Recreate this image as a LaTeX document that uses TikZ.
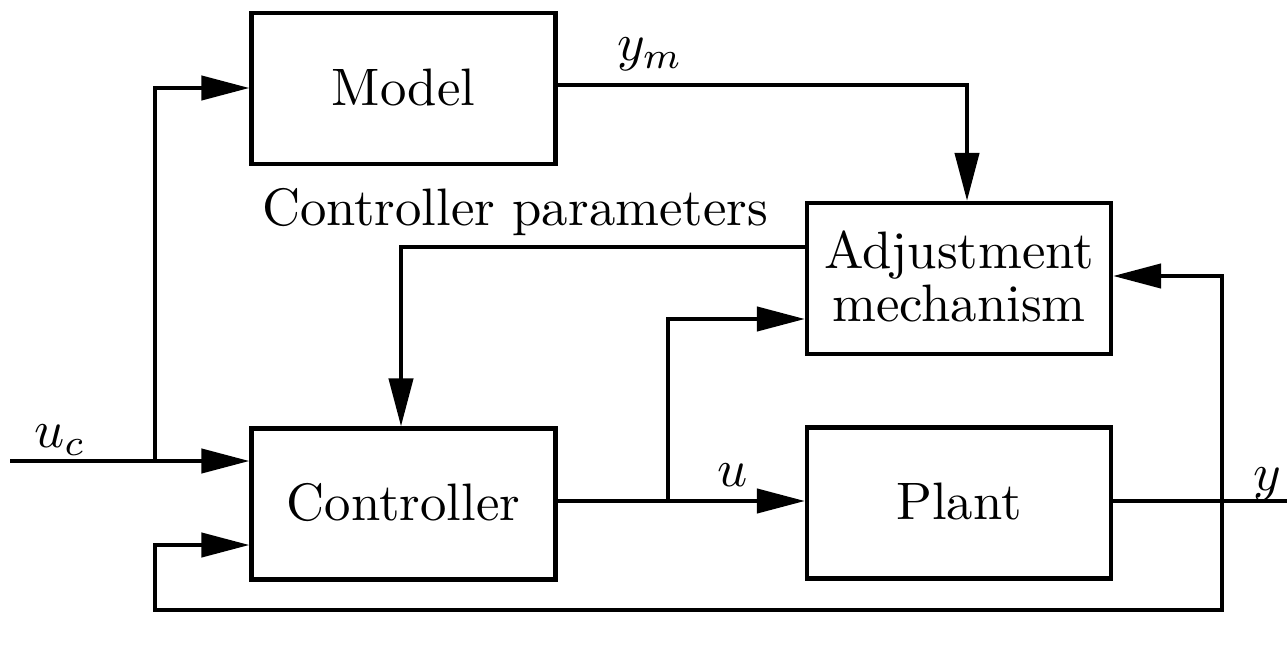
\documentclass[tikz,border=0pt]{standalone}
\usepackage{graphicx}
\usetikzlibrary{arrows.meta}
% text is set at 10pt and enlarged threefold
\newcommand{\lbl}[1]{\scalebox{3}{\fontsize{10}{12}\selectfont\def\arraystretch{0.85}\begin{tabular}{@{}c@{}}#1\end{tabular}}}
% block captions sit slightly below the geometric centre
\newcommand{\blbl}[1]{\raisebox{-3.3pt}[\height][\depth]{\lbl{#1}}}
\begin{document}
\begin{tikzpicture}[x=0.02cm,y=-0.02cm,
  blk/.style={draw,line width=2.4pt,minimum width=6.08cm,minimum height=3.02cm,inner sep=0pt,align=center},
  sig/.style={line width=2.4pt,-{Triangle[length=0.96cm,width=0.48cm]}},
  wire/.style={line width=2.4pt},
  txt/.style={inner sep=0pt}]
\useasboundingbox (0,0) rectangle (1287,672);
% blocks
\node[blk] (model) at (403.5,88.5) {\blbl{Model}};
\node[blk] (adj) at (959,278.5) {\blbl{Adjustment\\mechanism}};
\node[blk] (ctrl) at (403.5,504) {\blbl{Controller}};
\node[blk] (plant) at (959,503) {\blbl{Plant}};
% branch points and free ends
\coordinate (in) at (10,461);
\coordinate (b1) at (155,461);
\coordinate (b2) at (668,501);
\coordinate (b3) at (1222,501);
\coordinate (out) at (1287,501);
% reference input to controller and model
\draw[sig] (in) -- (ctrl.west |- in);
\draw[sig] (b1) |- (model.west |- 0,88);
% model output to adjustment mechanism
\draw[sig] (model.east |- 0,85) -| (adj.north -| 967,0);
% controller parameters
\draw[sig] (adj.west |- 0,247) -| (ctrl.north -| 401,0);
% control signal
\draw[sig] (ctrl.east |- b2) -- (plant.west |- b2);
\draw[sig] (b2) |- (adj.west |- 0,319);
% plant output
\draw[wire] (plant.east |- out) -- (out);
\draw[sig] (b3) |- (adj.east |- 0,276);
\draw[sig] (b3) -- (1222,610) -- (155,610) |- (ctrl.west |- 0,545);
% labels
\node[txt] at (650,50) {\lbl{$y_m$}};
\node[txt] at (515,215) {\lbl{Controller parameters}};
\node[txt] at (60,437) {\lbl{$u_c$}};
\node[txt] at (733,476) {\lbl{$u$}};
\node[txt] at (1267,480) {\lbl{$y$}};
\end{tikzpicture}
\end{document}
